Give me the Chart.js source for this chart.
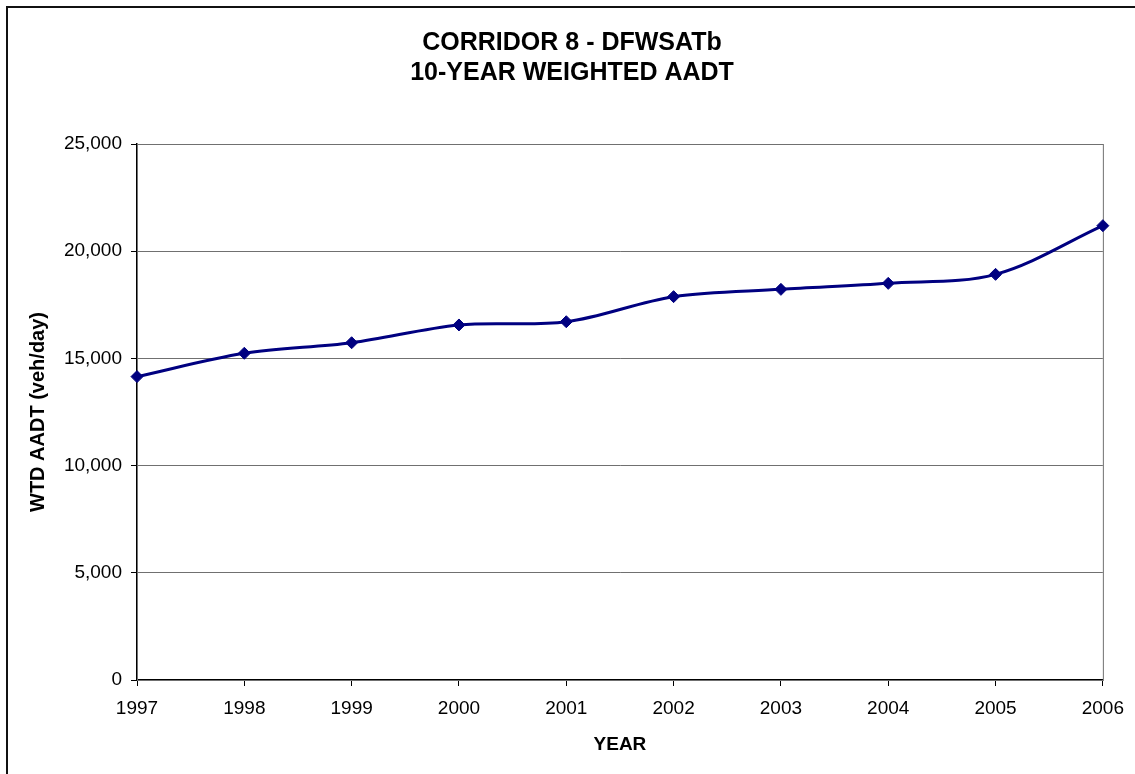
<!DOCTYPE html>
<html>
<head>
<meta charset="utf-8">
<script src="https://cdn.jsdelivr.net/npm/chart.js@4.4.0/dist/chart.umd.min.js"></script>
<style>
    html, body { margin: 0; padding: 0; background: #fff; overflow: hidden; }
    #frame {
        position: absolute; left: 6px; top: 6px; width: 2000px; height: 2000px;
        border-left: 2px solid #111; border-top: 2px solid #111;
    }
    #chart { position: absolute; left: 0; top: 0; }
</style>
</head>
<body>
<div id="frame"></div>
<canvas id="chart" width="1135" height="774"></canvas>
<script>
const titleLines = ["CORRIDOR 8 - DFWSATb", "10-YEAR WEIGHTED AADT"];
const years = ["1997", "1998", "1999", "2000", "2001", "2002", "2003", "2004", "2005", "2006"];
const wtdAadt = [14150, 15240, 15730, 16560, 16710, 17880, 18220, 18500, 18920, 21190];
const xTitle = "YEAR";
const yTitle = "WTD AADT (veh/day)";

const FONT = "'Liberation Sans', Arial, sans-serif";
const NAVY = "#000080";

/**
 * Two line heading, centred on the whole chart frame
 * rather than on the canvas box.
 */
const headingPlugin = {
    id: "heading",
    afterDraw(chart) {
        const ctx = chart.ctx;
        ctx.save();
        ctx.fillStyle = "#000";
        ctx.font = "bold 25px " + FONT;
        ctx.textAlign = "center";
        ctx.textBaseline = "middle";
        for (let i = 0; i < titleLines.length; i++) {
            ctx.fillText(titleLines[i], 572, 43 + i * 30);
        }
        ctx.restore();
    }
};

/**
 * Grey box round the plot area (right and top edges).
 */
const plotBorder = {
    id: "plotBorder",
    beforeDatasetsDraw(chart) {
        const {ctx, chartArea: a} = chart;
        ctx.save();
        ctx.strokeStyle = "#707070";
        ctx.lineWidth = 1;
        ctx.strokeRect(a.left + 0.5, a.top + 0.5, a.right - a.left, a.bottom - a.top);
        ctx.restore();
    }
};

Chart.defaults.font.family = FONT;
Chart.defaults.color = "#000";

new Chart(document.getElementById("chart"), {
    type: "line",
    data: {
        labels: years,
        datasets: [{
            label: yTitle,
            data: wtdAadt,
            borderColor: NAVY,
            backgroundColor: NAVY,
            borderWidth: 3,
            tension: 0.33,
            fill: false,
            pointStyle: "rectRot",
            pointRadius: 6,
            pointBorderWidth: 1,
            pointBackgroundColor: NAVY,
            pointBorderColor: NAVY
        }]
    },
    options: {
        responsive: false,
        animation: false,
        devicePixelRatio: 1,
        layout: { padding: { top: 144, right: 31, left: 0, bottom: 0 } },
        plugins: {
            legend: { display: false },
            tooltip: { enabled: false }
        },
        scales: {
            x: {
                offset: false,
                grid: { drawOnChartArea: false, drawTicks: true, tickLength: 6, tickColor: "#000" },
                border: { color: "#000", width: 1.5 },
                ticks: { font: { size: 19 }, padding: 11, maxRotation: 0, autoSkip: false },
                title: { display: true, text: xTitle, font: { size: 19, weight: "bold" }, padding: { top: 0, bottom: 18 } },
                afterFit(scale) { scale.height = 94; }
            },
            y: {
                min: 0,
                max: 25000,
                grid: {
                    color: ctx => (ctx.tick && ctx.tick.value === 0) ? "#000" : "#707070",
                    tickLength: 6,
                    tickColor: "#000"
                },
                border: { color: "#000", width: 1.5 },
                ticks: { stepSize: 5000, font: { size: 19 }, padding: 9 },
                title: { display: true, text: yTitle, font: { size: 20, weight: "bold" }, padding: { top: 26, bottom: 0 } },
                afterFit(scale) { scale.width = 137; }
            }
        }
    },
    plugins: [plotBorder, headingPlugin]
});
</script>
</body>
</html>
